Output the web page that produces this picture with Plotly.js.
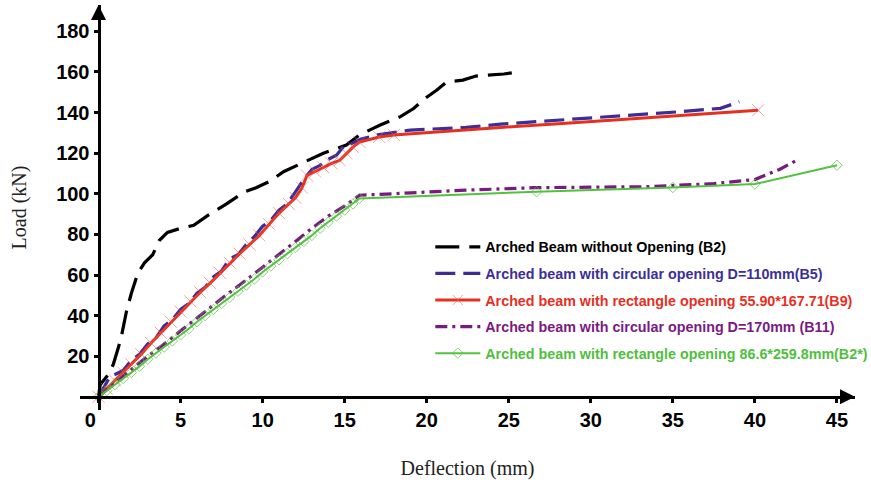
<!DOCTYPE html>
<html>
<head>
<meta charset="utf-8">
<script src="https://cdn.plot.ly/plotly-3.0.1.min.js"></script>
<style>html,body{margin:0;padding:0;background:#fff;}#chart{width:871px;height:484px;}</style>
</head>
<body>
<div id="chart"></div>
<script>
// ---- data ----
const namesB = [
  "Arched Beam without Opening (B2)",
  "Arched beam with circular opening D=110mm(B5)",
  "Arched beam with rectangle opening 55.90*167.71(B9)",
  "Arched beam with circular opening D=170mm (B11)",
  "Arched beam with rectangle opening 86.6*259.8mm(B2*)"
];

const b2X = [0, 0.1, 0.6, 0.9, 1.2, 1.4, 1.7, 2.0, 2.4, 2.8, 3.3, 3.7, 4.2, 5.0, 5.8, 6.6, 7.8, 8.9, 9.6, 10.4, 11.3, 12.1, 12.9, 13.7, 15.1, 15.9, 17.2, 18.4, 19.2, 19.9, 20.6, 21.2, 22.2, 23.0, 24.7, 25.6];
const b2Y = [0, 6, 11, 16, 24, 30, 42, 51, 61, 66, 70, 77, 81, 83, 84.5, 89, 95, 101, 103, 106, 111, 114, 117, 120, 124, 129, 134, 138, 142, 147, 151, 155, 156, 158, 159, 160];

const b5X = [0, 0.5, 0.7, 1.0, 1.5, 2.0, 2.5, 3.0, 3.5, 4.0, 4.5, 5.0, 5.5, 6.0, 6.5, 7.0, 7.5, 8.0, 8.5, 9.0, 9.5, 10.0, 10.5, 11.0, 11.5, 12.0, 12.5, 13.0, 13.5, 14.0, 14.5, 15.0, 15.5, 16.0, 17.0, 19.0, 22.4, 24.5, 27.3, 30.0, 32.4, 34.0, 35.4, 37.1, 37.9, 39.05];
const b5Y = [0, 7, 10, 11, 13, 18, 21, 26, 29, 35, 38, 43, 46, 51, 54, 59, 62, 68, 70, 75, 79, 84, 87, 92, 95, 101, 107, 112, 114, 117, 119, 124, 125, 127, 129, 131.4, 132.7, 134.3, 135.8, 137.4, 138.4, 139.6, 140.4, 141.6, 142.1, 145.3];

const b9X = [0, 0.5, 1.0, 1.5, 2.0, 2.6, 3.2, 3.8, 4.4, 5.0, 5.6, 6.2, 6.8, 7.4, 8.0, 8.6, 9.2, 9.8, 10.4, 11.0, 11.6, 12.0, 12.4, 12.7, 13.2, 13.7, 14.2, 14.7, 15.1, 15.5, 15.9, 17.1, 18.0, 20.4, 24.5, 28.5, 32.8, 35.4, 38.5, 40.2];
const b9Y = [0, 4, 8, 12, 16, 21, 26.5, 31.5, 37, 42, 47, 51.5, 56, 61, 66, 70.5, 75, 79.5, 85, 90.5, 95, 98, 103, 109, 111, 113, 115, 116.5, 120, 123, 125.5, 128, 129, 130.5, 132.7, 134.7, 137, 138.5, 140.4, 141.2];

const b11X = [0, 1, 2, 3, 4, 5, 6, 7, 8, 9, 10, 11, 12, 13, 14, 15, 15.9, 18.4, 22.4, 26.5, 30.4, 33.4, 37.5, 40.0, 40.4, 41.5, 42.5];
const b11Y = [0, 7, 13.5, 20, 26, 32.5, 39, 45, 51.5, 57.5, 64, 70, 76.5, 83, 89, 94, 99.3, 100.2, 101.8, 103, 103.3, 103.5, 105, 107, 108.4, 112, 116.3];

const b2sX = [0, 0.5, 1.0, 1.5, 2.0, 2.5, 3.0, 3.5, 4.0, 4.5, 5.0, 5.5, 6.0, 6.5, 7.0, 7.5, 8.0, 8.5, 9.0, 9.5, 10.0, 10.5, 11.0, 11.5, 12.0, 12.5, 13.0, 13.5, 14.0, 14.5, 15.0, 15.5, 15.9, 26.7, 35.0, 40.0, 45.0];
const b2sY = [0, 3, 6, 9, 12, 15, 18.5, 21.5, 24.5, 27.5, 30.5, 33.5, 37, 40, 43, 46, 49, 52, 55, 58, 61.5, 64.5, 67.5, 70.5, 73.5, 76.5, 79.5, 83, 86, 89, 92, 95, 97.7, 101, 103.1, 104.8, 114.1];

const xTicks = [0, 5, 10, 15, 20, 25, 30, 35, 40, 45];
const yTicks = [20, 40, 60, 80, 100, 120, 140, 160, 180];

// ---- styling ----
const col = {b2: "#000000", b5: "#3b2f97", b9: "#e6301f", b11: "#7a1a80", b2s: "#52c13f"};
const legendCol = ["#000000", "#3b2f97", "#e6301f", "#7a1a80", "#4fbf3d"];
const lbl = (i) => '<span style="color:' + legendCol[i] + '">' + namesB[i] + '</span>';

const b9Sizes = b9X.map((x, i) => (x <= 18.5 || i === b9X.length - 1) ? 12 : 0);

const traces = [
  {x: b2X, y: b2Y, name: lbl(0), mode: "lines", legendgroup: "a",
   line: {color: col.b2, width: 3.2, dash: "24px,10px"}},
  {x: b5X, y: b5Y, name: lbl(1), mode: "lines", legendgroup: "b",
   line: {color: col.b5, width: 3.2, dash: "20px,8px"}},
  {x: b9X, y: b9Y, name: lbl(2), mode: "lines+markers", legendgroup: "c",
   line: {color: col.b9, width: 3},
   marker: {symbol: "x-thin-open", size: b9Sizes, color: "rgba(240,90,80,0.8)", line: {width: 1, color: "rgba(240,90,80,0.8)"}}},
  {x: b11X, y: b11Y, name: lbl(3), mode: "lines", legendgroup: "d",
   line: {color: col.b11, width: 3.2, dash: "12px,5px,3px,5px"}},
  {x: b2sX, y: b2sY, name: lbl(4), mode: "lines+markers", legendgroup: "e",
   line: {color: col.b2s, width: 2},
   marker: {symbol: "diamond-open", size: 8, color: "rgba(82,193,63,0.7)", line: {width: 1}}}
];

const L = 80, R = 16, T = 5, B = 74;
const W = 871, H = 484;
const plotH = H - T - B, plotW = W - L - R;
const xPos = (410 - 396.7) / plotH;   // fraction up the plot where the x axis line sits
const yPos = (98.5 - 80) / plotW;     // fraction across where the y axis line sits

const tickFont = {family: "Liberation Sans, Arial, sans-serif", size: 20, weight: "bold", color: "#000"};
const titleFont = {family: "Liberation Serif, Times New Roman, serif", size: 20, color: "#222"};

const layout = {
  width: W, height: H,
  margin: {l: L, r: R, t: T, b: B, pad: 0, autoexpand: false},
  paper_bgcolor: "#fff", plot_bgcolor: "#fff",
  showlegend: true,
  legend: {x: 0.452, y: 0.442, xanchor: "left", yanchor: "top", bgcolor: "rgba(0,0,0,0)",
           font: {family: "Liberation Sans, Arial, sans-serif", size: 14.3, weight: "bold"},
           tracegroupgap: 5, itemwidth: 45},
  xaxis: {range: [-1.13, 46.1], anchor: "free", position: xPos, showgrid: false, zeroline: false,
          showline: true, linecolor: "#000", linewidth: 3,
          tickmode: "array", tickvals: xTicks, ticktext: xTicks.map(v => v === 0 ? "0\u00a0\u00a0\u00a0" : String(v)),
          ticks: "outside", ticklen: 4, tickwidth: 3, tickcolor: "#000", tickfont: tickFont,
          title: {text: "Deflection (mm)", font: titleFont, standoff: 31}},
  yaxis: {range: [-6.5, 193], anchor: "free", position: yPos, showgrid: false, zeroline: false,
          showline: true, linecolor: "#000", linewidth: 3,
          tickmode: "array", tickvals: yTicks, ticktext: yTicks.map(String),
          ticks: "outside", ticklen: 4, tickwidth: 3, tickcolor: "#000", tickfont: tickFont,
          title: {text: "Load (kN)", font: titleFont, standoff: 23}},
  annotations: [
    {xref: "paper", yref: "paper", x: 1, y: xPos, ax: -12, ay: 0, text: "", showarrow: true,
     arrowhead: 2, arrowsize: 1, arrowwidth: 3, arrowcolor: "#000"},
    {xref: "paper", yref: "paper", x: yPos, y: 1, ax: 0, ay: 12, text: "", showarrow: true,
     arrowhead: 2, arrowsize: 1, arrowwidth: 3, arrowcolor: "#000"}
  ]
};

Plotly.newPlot("chart", traces, layout, {staticPlot: true, displayModeBar: false});
</script>
</body>
</html>
